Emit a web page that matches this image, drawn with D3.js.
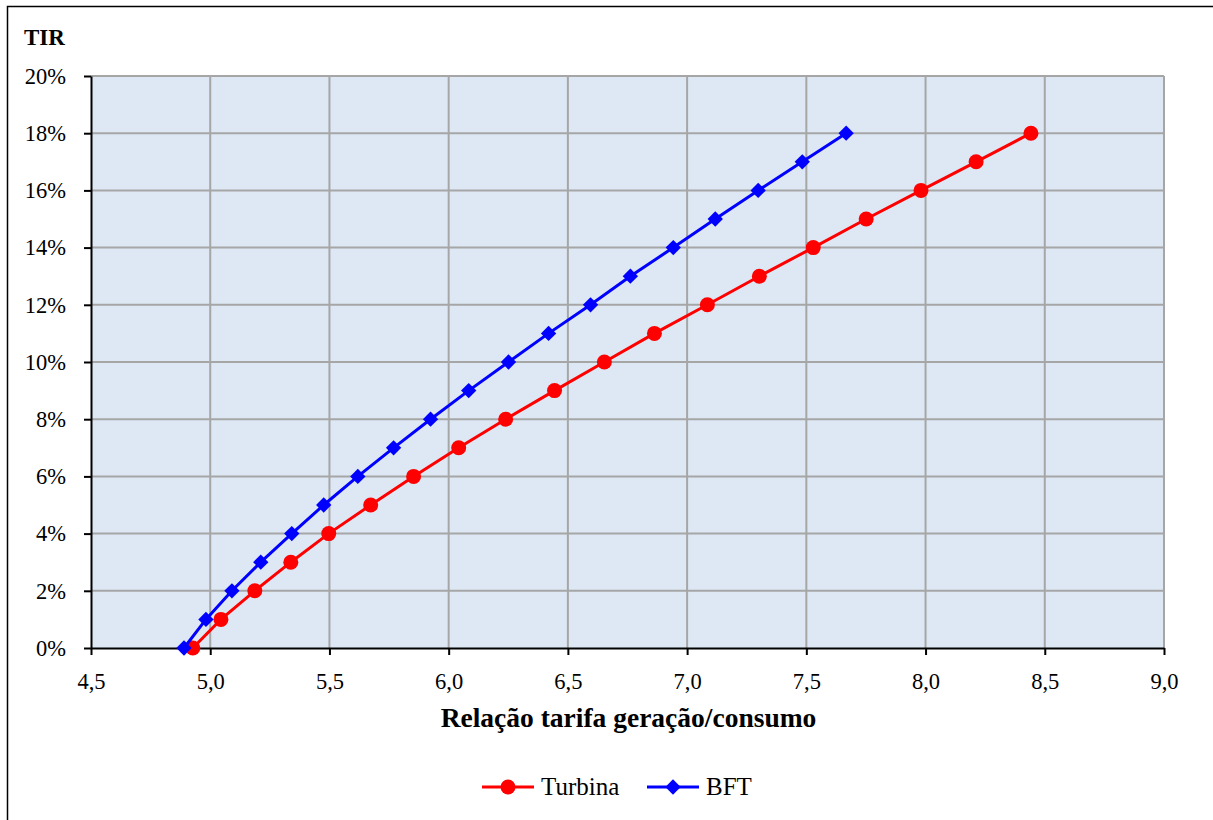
<!DOCTYPE html>
<html><head><meta charset="utf-8">
<script src="https://cdn.jsdelivr.net/npm/d3@7"></script>
<style>body{margin:0;background:#fff}svg{display:block}</style>
</head><body>
<script>
const tirValues = [0,1,2,3,4,5,6,7,8,9,10,11,12,13,14,15,16,17,18];
const turbinaX = [4.927,5.045,5.187,5.338,5.497,5.673,5.853,6.042,6.239,6.444,6.653,6.863,7.085,7.303,7.529,7.751,7.981,8.212,8.442];
const bftX = [4.890,4.982,5.091,5.212,5.342,5.476,5.619,5.769,5.924,6.084,6.251,6.419,6.595,6.762,6.942,7.118,7.298,7.483,7.667];
const xTicks = [4.5,5.0,5.5,6.0,6.5,7.0,7.5,8.0,8.5,9.0];
const yTicks = [0,2,4,6,8,10,12,14,16,18,20];
const seriesNames = ["Turbina","BFT"];
const seriesColors = ["#ff0000","#0000ff"];

const W=1213,H=820;
const font="'Liberation Serif', 'DejaVu Serif', serif";
const svg=d3.select("body").append("svg").attr("width",W).attr("height",H);
svg.append("rect").attr("x",7.5).attr("y",6.5).attr("width",W+10).attr("height",H+10).attr("fill","#fff").attr("stroke","#000").attr("stroke-width",1.5);

const L=91,R=1164,T=76,B=648;
const x=d3.scaleLinear().domain([4.5,9]).range([L,R]);
const y=d3.scaleLinear().domain([0,20]).range([B,T]);

svg.append("rect").attr("x",L).attr("y",T).attr("width",R-L).attr("height",B-T).attr("fill","#dde8f4");
const g=svg.append("g");
g.selectAll(".vg").data(xTicks.slice(1)).join("line").attr("x1",d=>x(d)).attr("x2",d=>x(d)).attr("y1",T).attr("y2",B).attr("stroke","#a6a6a6").attr("stroke-width",2);
g.selectAll(".hg").data(yTicks.slice(1)).join("line").attr("x1",L).attr("x2",R).attr("y1",d=>y(d)).attr("y2",d=>y(d)).attr("stroke","#a6a6a6").attr("stroke-width",2);

const xAxis=svg.append("g").attr("transform",`translate(0,${B})`).call(d3.axisBottom(x).tickValues(xTicks).tickSize(7).tickSizeOuter(0).tickFormat(d=>d3.format(".1f")(d).replace(".",",")));
const yAxis=svg.append("g").attr("transform",`translate(${L},0)`).call(d3.axisLeft(y).tickValues(yTicks).tickSize(7).tickSizeOuter(0).tickFormat(d=>d+"%"));
[xAxis,yAxis].forEach(a=>{a.select(".domain").attr("stroke","#000").attr("stroke-width",2);a.selectAll(".tick line").attr("stroke","#000").attr("stroke-width",2);a.selectAll("text").attr("font-family",font).attr("font-size",22.5).attr("fill","#000");});
xAxis.selectAll("text").attr("dy","0.71em").attr("y",25);
yAxis.selectAll("text").attr("x",-25);

const line=d3.line().x(d=>x(d[0])).y(d=>y(d[1]));
const tData=turbinaX.map((v,i)=>[v,tirValues[i]]);
const bData=bftX.map((v,i)=>[v,tirValues[i]]);
svg.append("path").datum(tData).attr("d",line).attr("fill","none").attr("stroke",seriesColors[0]).attr("stroke-width",3);
svg.selectAll(".tm").data(tData).join("circle").attr("cx",d=>x(d[0])).attr("cy",d=>y(d[1])).attr("r",7.5).attr("fill",seriesColors[0]);
svg.append("path").datum(bData).attr("d",line).attr("fill","none").attr("stroke",seriesColors[1]).attr("stroke-width",3);
const dia=d3.symbol().type(d3.symbolDiamond2).size(150);
svg.selectAll(".bm").data(bData).join("path").attr("d",dia).attr("transform",d=>`translate(${x(d[0])},${y(d[1])})`).attr("fill",seriesColors[1]);

svg.append("text").attr("x",24).attr("y",45).attr("font-family",font).attr("font-weight","bold").attr("font-size",23).text("TIR");
svg.append("text").attr("x",(L+R)/2+1).attr("y",727).attr("text-anchor","middle").attr("font-family",font).attr("font-weight","bold").attr("font-size",27.5).text("Relação tarifa geração/consumo");

// legend
const leg=[{x0:482,name:seriesNames[0],c:seriesColors[0],m:"c"},{x0:647,name:seriesNames[1],c:seriesColors[1],m:"d"}];
leg.forEach(l=>{
  const ly=787;
  svg.append("line").attr("x1",l.x0).attr("x2",l.x0+52).attr("y1",ly).attr("y2",ly).attr("stroke",l.c).attr("stroke-width",3);
  if(l.m==="c") svg.append("circle").attr("cx",l.x0+26).attr("cy",ly).attr("r",7.5).attr("fill",l.c);
  else svg.append("path").attr("d",dia).attr("transform",`translate(${l.x0+26},${ly})`).attr("fill",l.c);
  svg.append("text").attr("x",l.x0+59).attr("y",ly+8).attr("font-family",font).attr("font-size",25).text(l.name);
});
</script>
</body></html>
